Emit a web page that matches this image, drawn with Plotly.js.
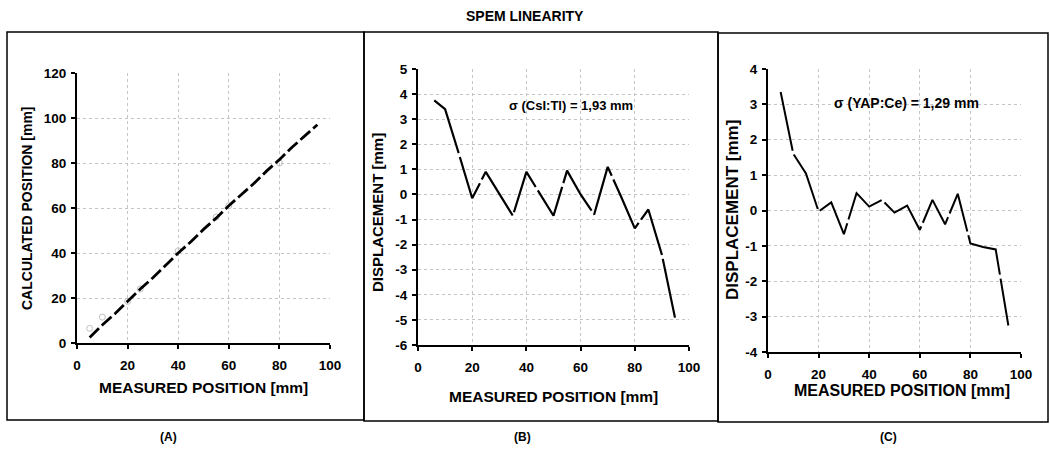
<!DOCTYPE html>
<html>
<head>
<meta charset="utf-8">
<script src="https://cdn.plot.ly/plotly-3.0.1.min.js"></script>
<style>html,body{margin:0;padding:0;background:#fff;}#chart{width:1050px;height:449px;}</style>
</head>
<body>
<div id="chart"></div>
<script>
// Panel A: calculated vs measured position (fitted line + measured points)
const fitX = [5, 10, 15, 20, 25, 30, 35, 40, 45, 50, 55, 60, 65, 70, 75, 80, 85, 90, 95];
const fitY = [2.5, 8, 13, 18.5, 24, 29, 34.5, 40, 45, 50.5, 55.5, 61, 66, 71, 76.5, 81.5, 87, 92, 97];
const pointsX = [5, 10, 20, 25, 40, 55, 60, 80];
const pointsY = [6.5, 11.5, 18.5, 24, 41, 56, 61, 80];

// Panel B: CsI:Tl displacement
const csiX = [6, 10, 15, 20, 25, 30, 35, 40, 45, 50, 55, 60, 65, 70, 75, 80, 85, 90, 95];
const csiY = [3.75, 3.4, 1.65, -0.15, 0.9, 0.0, -0.85, 0.9, 0.0, -0.85, 0.95, 0.0, -0.8, 1.1, -0.1, -1.35, -0.6, -2.4, -5.0];

// Panel C: YAP:Ce displacement
const yapX = [5, 10, 15, 20, 25, 30, 35, 40, 45, 50, 55, 60, 65, 70, 75, 80, 85, 90, 95];
const yapY = [3.35, 1.6, 1.05, -0.03, 0.23, -0.67, 0.49, 0.11, 0.3, -0.06, 0.14, -0.55, 0.3, -0.39, 0.47, -0.93, -1.03, -1.1, -3.25];

const xTicks = [0, 20, 40, 60, 80, 100];
const aYTicks = [0, 20, 40, 60, 80, 100, 120];
const bYTicks = [-6, -5, -4, -3, -2, -1, 0, 1, 2, 3, 4, 5];
const cYTicks = [-4, -3, -2, -1, 0, 1, 2, 3, 4];

const mainTitle = 'SPEM LINEARITY';
const xTitle = 'MEASURED POSITION [mm]';
const aYTitle = 'CALCULATED POSITION [mm]';
const dispTitle = 'DISPLACEMENT [mm]';
const sigmaB = 'σ (CsI:Tl) = 1,93 mm';
const sigmaC = 'σ (YAP:Ce) = 1,29 mm';
const panelLabels = ['(A)', '(B)', '(C)'];

const W = 1050, H = 449;
const px = v => v / W;
const py = v => 1 - v / H;
const FONT = 'Liberation Sans';
const b = s => '<b>' + s + '</b>';

function axisBase(vals, extra) {
  return Object.assign({
    showline: true, linecolor: '#000', linewidth: 2,
    ticks: 'outside', ticklen: 4, tickwidth: 2, tickcolor: '#000',
    showgrid: true, gridcolor: '#c4c4c4', griddash: 'dot', gridwidth: 1,
    zeroline: false, mirror: false, fixedrange: true,
    tickfont: {family: FONT, size: 13.5, color: '#000', weight: 700},
    tickmode: 'array', tickvals: vals, ticktext: vals.map(v => b(String(v)))
  }, extra);
}

function ann(text, x, y, size, angle) {
  const a = {text: b(text), xref: 'paper', yref: 'paper', x: px(x), y: py(y), showarrow: false,
    xanchor: 'center', yanchor: 'middle',
    font: {size: size, weight: 700, family: FONT, color: '#000'}};
  if (angle) a.textangle = angle;
  return a;
}

const data = [
  {x: pointsX, y: pointsY, xaxis: 'x', yaxis: 'y', mode: 'markers', type: 'scatter',
   marker: {symbol: 'circle-open', size: 6, color: '#c0c0c0', line: {width: 1}}, hoverinfo: 'skip'},
  {x: fitX, y: fitY, xaxis: 'x', yaxis: 'y', mode: 'lines', type: 'scatter',
   line: {color: '#000', width: 2.8, dash: '13px,4px'}},
  {x: csiX, y: csiY, xaxis: 'x2', yaxis: 'y2', mode: 'lines', type: 'scatter',
   line: {color: '#000', width: 2.2, dash: '60px,4px'}},
  {x: yapX, y: yapY, xaxis: 'x3', yaxis: 'y3', mode: 'lines', type: 'scatter',
   line: {color: '#000', width: 2, dash: '60px,4px'}}
];

const layout = {
  width: W, height: H,
  margin: {l: 0, r: 0, t: 0, b: 0},
  paper_bgcolor: '#fff', plot_bgcolor: '#fff',
  showlegend: false,
  font: {family: FONT, color: '#000'},
  xaxis: axisBase(xTicks, {domain: [px(77), px(330)], range: [0, 100], anchor: 'y', ticklabelstandoff: 5}),
  yaxis: axisBase(aYTicks, {domain: [py(343), py(73)], range: [0, 120], anchor: 'x', ticklabelstandoff: 2}),
  xaxis2: axisBase(xTicks, {domain: [px(418), px(689)], range: [0, 100], anchor: 'y2', ticklabelstandoff: 5}),
  yaxis2: axisBase(bYTicks, {domain: [py(345), py(69)], range: [-6, 5], anchor: 'x2', ticklabelstandoff: 2}),
  xaxis3: axisBase(xTicks, {domain: [px(768), px(1021)], range: [0, 100], anchor: 'y3', ticklabelstandoff: 5}),
  yaxis3: axisBase(cYTicks, {domain: [py(352), py(69)], range: [-4, 4], anchor: 'x3', ticklabelstandoff: 2}),
  shapes: [
    {type: 'rect', xref: 'paper', yref: 'paper', x0: px(7), x1: px(364), y0: py(420), y1: py(32), line: {color: '#000', width: 1.5}},
    {type: 'rect', xref: 'paper', yref: 'paper', x0: px(364), x1: px(718), y0: py(421), y1: py(32), line: {color: '#000', width: 1.5}},
    {type: 'rect', xref: 'paper', yref: 'paper', x0: px(718), x1: px(1048), y0: py(422), y1: py(33), line: {color: '#000', width: 1.5}}
  ],
  annotations: [
    ann(mainTitle, 525, 16, 14),
    ann(xTitle, 203, 387, 15.5),
    ann(aYTitle, 27, 208, 14, -90),
    ann(xTitle, 553, 396, 15.5),
    ann(dispTitle, 377, 213, 15, -90),
    ann(xTitle, 902, 390, 16),
    ann(dispTitle, 732, 210, 17, -90),
    ann(sigmaB, 571, 105, 13),
    ann(sigmaC, 906, 103, 14),
    ann(panelLabels[0], 168, 437, 12),
    ann(panelLabels[1], 522, 437, 12),
    ann(panelLabels[2], 888, 437, 12)
  ]
};

Plotly.newPlot('chart', data, layout, {displayModeBar: false, staticPlot: true});
</script>
</body>
</html>
